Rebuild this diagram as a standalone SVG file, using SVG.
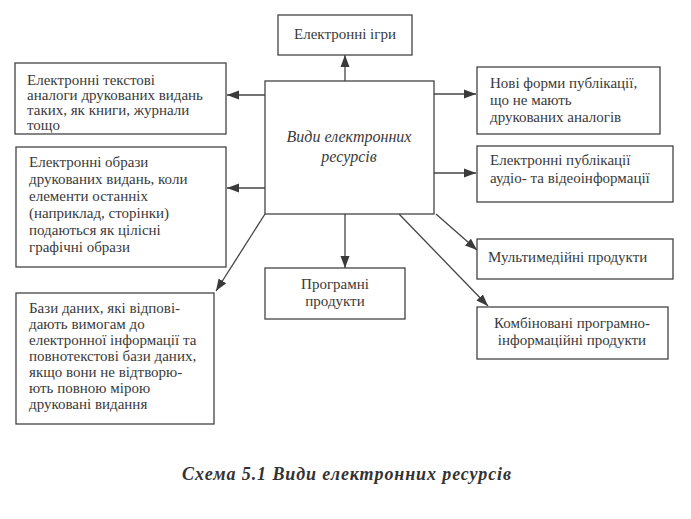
<svg xmlns="http://www.w3.org/2000/svg" width="691" height="519" viewBox="0 0 691 519">
<defs>
<marker id="ah" markerWidth="13" markerHeight="10" refX="12" refY="5" orient="auto" markerUnits="userSpaceOnUse">
<path d="M0,0.5 L12,5 L0,9.5 Z" fill="#3a3a3a"/>
</marker>
<style>
.box{fill:#fff;stroke:#444;stroke-width:1.3}
.t{font-family:"Liberation Serif","Times New Roman","DejaVu Serif",serif;font-size:15px;fill:#3a3a3a}
.c{text-anchor:middle}
.it{font-style:italic;font-size:16px}
.cap{font-family:"Liberation Serif","Times New Roman","DejaVu Serif",serif;font-size:18px;font-weight:bold;font-style:italic;fill:#333;letter-spacing:0.9px}
.ln{stroke:#444;stroke-width:1.3;fill:none;marker-end:url(#ah)}
</style>
</defs>
<rect width="691" height="519" fill="#fff"/>
<g id="connectors">
<line class="ln" x1="345" y1="81" x2="345" y2="55"/>
<line class="ln" x1="265" y1="95" x2="227" y2="95"/>
<line class="ln" x1="434" y1="94" x2="476" y2="94"/>
<line class="ln" x1="265" y1="188" x2="227" y2="188"/>
<line class="ln" x1="434" y1="173" x2="476" y2="173"/>
<line class="ln" x1="345" y1="214" x2="345" y2="268"/>
<line class="ln" x1="265" y1="214" x2="216" y2="291"/>
<line class="ln" x1="436" y1="214" x2="477" y2="250"/>
<line class="ln" x1="399" y1="214" x2="488" y2="306"/>
</g>
<g id="center">
<rect class="box" x="265" y="81" width="169" height="133"/>
<text class="t it c" x="349" y="142">Види електронних</text>
<text class="t it c" x="349" y="162">ресурсів</text>
</g>
<g id="games">
<rect class="box" x="278" y="15" width="134" height="40"/>
<text class="t c" x="345" y="39">Електронні ігри</text>
</g>
<g id="text-analogs">
<rect class="box" x="15" y="63" width="211" height="71"/>
<text class="t" x="27" y="85">Електронні текстові</text>
<text class="t" x="27" y="100">аналоги друкованих видань</text>
<text class="t" x="27" y="115">таких, як книги, журнали</text>
<text class="t" x="27" y="130">тощо</text>
</g>
<g id="images">
<rect class="box" x="16" y="147" width="210" height="120"/>
<text class="t" x="29" y="167">Електронні образи</text>
<text class="t" x="29" y="184">друкованих видань, коли</text>
<text class="t" x="29" y="201">елементи останніх</text>
<text class="t" x="29" y="218">(наприклад, сторінки)</text>
<text class="t" x="29" y="235">подаються як цілісні</text>
<text class="t" x="29" y="252">графічні образи</text>
</g>
<g id="databases">
<rect class="box" x="16" y="293" width="198" height="131"/>
<text class="t" x="29" y="313">Бази даних, які відпові-</text>
<text class="t" x="29" y="329">дають вимогам до</text>
<text class="t" x="29" y="345">електронної інформації та</text>
<text class="t" x="29" y="361">повнотекстові бази даних,</text>
<text class="t" x="29" y="377">якщо вони не відтворю-</text>
<text class="t" x="29" y="393">ють повною мірою</text>
<text class="t" x="29" y="409">друковані видання</text>
</g>
<g id="software">
<rect class="box" x="265" y="268" width="140" height="51"/>
<text class="t c" x="335" y="289">Програмні</text>
<text class="t c" x="335" y="306">продукти</text>
</g>
<g id="new-forms">
<rect class="box" x="477" y="67" width="183" height="67"/>
<text class="t" x="490" y="88">Нові форми публікації,</text>
<text class="t" x="490" y="105">що не мають</text>
<text class="t" x="490" y="122">друкованих аналогів</text>
</g>
<g id="audio-video">
<rect class="box" x="477" y="146" width="196" height="56"/>
<text class="t" x="490" y="165">Електронні публікації</text>
<text class="t" x="490" y="183">аудіо- та відеоінформації</text>
</g>
<g id="multimedia">
<rect class="box" x="477" y="239" width="196" height="40"/>
<text class="t" x="488" y="262">Мультимедійні продукти</text>
</g>
<g id="combined">
<rect class="box" x="477" y="307" width="191" height="52"/>
<text class="t c" x="572" y="328">Комбіновані програмно-</text>
<text class="t c" x="572" y="345">інформаційні продукти</text>
</g>
<text class="cap" x="182" y="480">Схема 5.1 Види електронних ресурсів</text>
</svg>
